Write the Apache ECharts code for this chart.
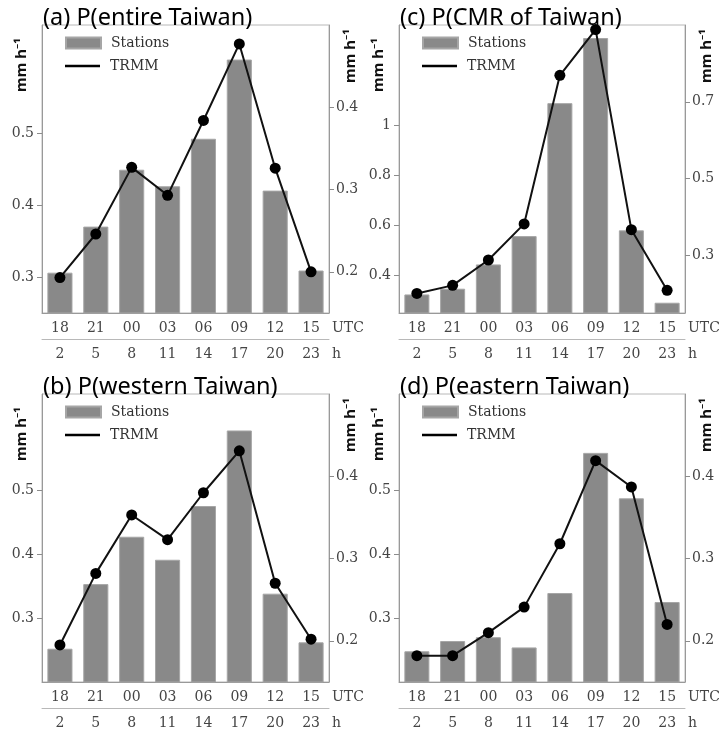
<!DOCTYPE html>
<html>
<head>
<meta charset="utf-8">
<script src="https://cdn.jsdelivr.net/npm/echarts@6/dist/echarts.min.js"></script>
<style>
  html, body { margin: 0; padding: 0; background: #fff; }
  #main { width: 719px; height: 738px; }
</style>
</head>
<body>
<div id="main"></div>
<script>
// categories
const utcHours = ['18', '21', '00', '03', '06', '09', '12', '15'];
const localHours = ['2', '5', '8', '11', '14', '17', '20', '23'];

// station rain rate (left axis, mm/h)
const stationsEntire  = [0.306, 0.370, 0.449, 0.426, 0.492, 0.602, 0.420, 0.309];
const stationsCMR     = [0.324, 0.347, 0.444, 0.557, 1.088, 1.348, 0.580, 0.291];
const stationsWestern = [0.252, 0.353, 0.427, 0.391, 0.475, 0.593, 0.338, 0.262];
const stationsEastern = [0.248, 0.264, 0.270, 0.254, 0.339, 0.558, 0.487, 0.325];

// TRMM rain rate (right axis, mm/h)
const trmmEntire  = [0.193, 0.246, 0.327, 0.293, 0.384, 0.477, 0.326, 0.200];
const trmmCMR     = [0.201, 0.222, 0.288, 0.382, 0.769, 0.888, 0.367, 0.209];
const trmmWestern = [0.195, 0.282, 0.353, 0.323, 0.380, 0.431, 0.270, 0.202];
const trmmEastern = [0.182, 0.182, 0.210, 0.241, 0.318, 0.419, 0.387, 0.220];

// tick labels
const leftTicksSmall  = [0.3, 0.4, 0.5];
const leftTicksCMR    = [0.4, 0.6, 0.8, 1];
const rightTicksSmall = [0.2, 0.3, 0.4];
const rightTicksCMR   = [0.3, 0.5, 0.7];

const panels = [
  { title: '(a) P(entire Taiwan)', stations: stationsEntire, trmm: trmmEntire,
    lRange: [0.25, 0.65], lTicks: leftTicksSmall, rRange: [0.15, 0.5], rTicks: rightTicksSmall,
    left: 42, top: 25, width: 287 },
  { title: '(c) P(CMR of Taiwan)', stations: stationsCMR, trmm: trmmCMR,
    lRange: [0.25, 1.4], lTicks: leftTicksCMR, rRange: [0.15, 0.9], rTicks: rightTicksCMR,
    left: 399, top: 25, width: 286 },
  { title: '(b) P(western Taiwan)', stations: stationsWestern, trmm: trmmWestern,
    lRange: [0.2, 0.65], lTicks: leftTicksSmall, rRange: [0.15, 0.5], rTicks: rightTicksSmall,
    left: 42, top: 394, width: 287 },
  { title: '(d) P(eastern Taiwan)', stations: stationsEastern, trmm: trmmEastern,
    lRange: [0.2, 0.65], lTicks: leftTicksSmall, rRange: [0.15, 0.5], rTicks: rightTicksSmall,
    left: 399, top: 394, width: 286 }
];

const serif = "'DejaVu Serif', 'Liberation Serif', serif";
const frameColor = '#b8b8b8';
const axisColor = '#999';
const tickColor = '#8c8c8c';
const labelStyle = { fontFamily: serif, fontSize: 14, color: '#444' };
const unitStyle = { fontFamily: 'Noto Sans', fontWeight: 'bold', fontSize: 15, color: '#111' };

let option = {
  animation: false,
  backgroundColor: '#fff',
  title: [], legend: [], grid: [], xAxis: [], yAxis: [], series: []
};

panels.forEach((p, i) => {
  option.grid.push({
    left: p.left, top: p.top, width: p.width, height: 288,
    show: true, borderColor: frameColor, borderWidth: 1,
    containLabel: false, outerBoundsMode: 'none'
  });

  option.title.push({
    text: p.title, left: p.left + 1, top: p.top - 19, padding: 0,
    textStyle: { fontFamily: 'Noto Sans', fontSize: 23.5, fontWeight: 'normal', color: '#000' }
  });

  // two legends so the TRMM key can be a thin line
  option.legend.push({
    data: [{ name: 'Stations', icon: 'rect' }],
    left: p.left + 23, top: p.top + 11, padding: 0,
    itemWidth: 35, itemHeight: 11, selectedMode: false,
    textStyle: { fontFamily: serif, fontSize: 14, color: '#333', padding: [0, 0, 0, 5] }
  });
  option.legend.push({
    data: [{ name: 'TRMM', icon: 'rect' }],
    left: p.left + 23, top: p.top + 34, padding: 0,
    itemWidth: 35, itemHeight: 2.5, selectedMode: false,
    textStyle: { fontFamily: serif, fontSize: 14, color: '#333', padding: [0, 0, 0, 5] }
  });

  // UTC axis and local-hour axis underneath
  option.xAxis.push({
    gridIndex: i, type: 'category', data: utcHours, position: 'bottom',
    axisLine: { lineStyle: { color: axisColor } },
    axisTick: { alignWithLabel: true, length: 5, lineStyle: { color: tickColor } },
    axisLabel: Object.assign({ margin: 8 }, labelStyle),
    name: 'UTC', nameLocation: 'end', nameGap: 3, nameMoveOverlap: false,
    nameTextStyle: Object.assign({ verticalAlign: 'top', padding: [8, 0, 0, 0] }, labelStyle)
  });
  option.xAxis.push({
    gridIndex: i, type: 'category', data: localHours, position: 'bottom', offset: 26,
    axisLine: { lineStyle: { color: frameColor } },
    axisTick: { alignWithLabel: true, length: 5, lineStyle: { color: tickColor } },
    axisLabel: Object.assign({ margin: 8 }, labelStyle),
    name: 'h', nameLocation: 'end', nameGap: 3, nameMoveOverlap: false,
    nameTextStyle: Object.assign({ verticalAlign: 'top', padding: [8, 0, 0, 0] }, labelStyle)
  });

  option.yAxis.push({
    gridIndex: i, type: 'value', position: 'left',
    min: p.lRange[0], max: p.lRange[1], splitLine: { show: false },
    axisLine: { show: true, lineStyle: { color: axisColor } },
    axisTick: { show: true, length: 5, customValues: p.lTicks, lineStyle: { color: tickColor } },
    axisLabel: Object.assign({ margin: 8, customValues: p.lTicks }, labelStyle),
    name: 'mm h⁻¹', nameLocation: 'end', nameRotate: 90, nameGap: -67, nameMoveOverlap: false,
    nameTextStyle: Object.assign({ align: 'left', verticalAlign: 'bottom', padding: [0, 0, 13, 0] }, unitStyle)
  });
  option.yAxis.push({
    gridIndex: i, type: 'value', position: 'right',
    min: p.rRange[0], max: p.rRange[1], splitLine: { show: false },
    axisLine: { show: true, lineStyle: { color: axisColor } },
    axisTick: { show: true, length: 5, customValues: p.rTicks, lineStyle: { color: tickColor } },
    axisLabel: Object.assign({ margin: 7, customValues: p.rTicks }, labelStyle),
    name: 'mm h⁻¹', nameLocation: 'end', nameRotate: 90, nameGap: -58, nameMoveOverlap: false,
    nameTextStyle: Object.assign({ align: 'left', verticalAlign: 'top', padding: [14, 0, 0, 0] }, unitStyle)
  });

  option.series.push({
    name: 'Stations', type: 'bar', xAxisIndex: 2 * i, yAxisIndex: 2 * i,
    data: p.stations, barWidth: '70%',
    itemStyle: { color: '#898989', borderColor: '#a6a6a6', borderWidth: 1 }
  });
  option.series.push({
    name: 'TRMM', type: 'line', xAxisIndex: 2 * i, yAxisIndex: 2 * i + 1,
    data: p.trmm, symbol: 'circle', symbolSize: 11, z: 3,
    lineStyle: { color: '#111', width: 2 },
    itemStyle: { color: '#000' }
  });
});

const chart = echarts.init(document.getElementById('main'), null, { renderer: 'canvas' });
chart.setOption(option);
</script>
</body>
</html>
